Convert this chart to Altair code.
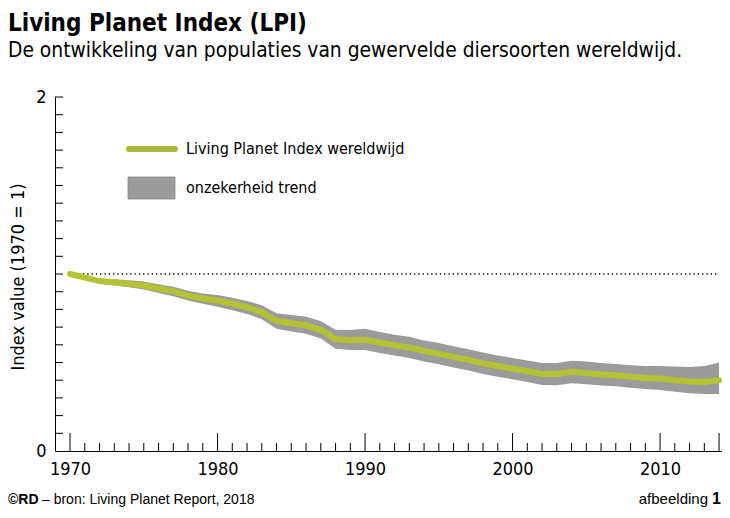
import altair as alt
import pandas as pd

# ---- data ----
years = list(range(1970, 2015))
lpi = [1.00, 0.98, 0.96, 0.953, 0.945, 0.935, 0.918, 0.902, 0.878, 0.862,
       0.85, 0.832, 0.812, 0.785, 0.735, 0.722, 0.71, 0.685, 0.632, 0.626,
       0.628, 0.612, 0.598, 0.585, 0.565, 0.55, 0.532, 0.515, 0.495, 0.48,
       0.465, 0.452, 0.435, 0.435, 0.448, 0.44, 0.432, 0.428, 0.42, 0.413,
       0.41, 0.40, 0.393, 0.39, 0.40]
lower = [1.00, 0.97, 0.945, 0.935, 0.925, 0.912, 0.893, 0.875, 0.85, 0.832,
         0.815, 0.795, 0.774, 0.745, 0.69, 0.675, 0.662, 0.635, 0.578, 0.57,
         0.57, 0.553, 0.54, 0.525, 0.506, 0.49, 0.472, 0.455, 0.435, 0.42,
         0.405, 0.39, 0.373, 0.372, 0.383, 0.377, 0.37, 0.366, 0.358, 0.35,
         0.345, 0.335, 0.326, 0.322, 0.322]
upper = [1.00, 0.99, 0.975, 0.97, 0.965, 0.957, 0.942, 0.928, 0.905, 0.89,
         0.882, 0.866, 0.848, 0.823, 0.778, 0.768, 0.758, 0.735, 0.685, 0.683,
         0.69, 0.672, 0.657, 0.645, 0.625, 0.61, 0.592, 0.575, 0.556, 0.54,
         0.525, 0.512, 0.497, 0.497, 0.51, 0.505, 0.497, 0.492, 0.485, 0.48,
         0.48, 0.478, 0.475, 0.48, 0.50]
x_major = [1970, 1980, 1990, 2000, 2010, 2014]
x_label_values = [1970, 1980, 1990, 2000, 2010]
y_label_values = [0, 1, 2]
y_minor = [round(i * 0.1, 1) for i in range(1, 21)]
reference_level = [1.0]

title_text = "Living Planet Index (LPI)"
subtitle_text = "De ontwikkeling van populaties van gewervelde diersoorten wereldwijd."
ytitle_text = "Index value (1970 = 1)"
legend_line_text = "Living Planet Index wereldwijd"
legend_band_text = "onzekerheid trend"
footer_bold = "©RD"
footer_text = "– bron: Living Planet Report, 2018"
footer_right = "afbeelding"
footer_right_num = "1"

# ---- layout / style ----
W, H = 667, 354
FONT_N = "DejaVu Sans Condensed, Liberation Sans Narrow, Arial Narrow, sans-serif"
FONT = "Liberation Sans, Arial, sans-serif"
LINE_COLOR = "#b4c333"
BAND_COLOR = "#9b9b9b"

df = pd.DataFrame({"year": years, "lpi": lpi, "lo": lower, "hi": upper})
xscale = alt.Scale(domain=[1968.98, 2014.2], nice=False, zero=False)
yscale = alt.Scale(domain=[0, 2], nice=False, zero=False)

band = alt.Chart(df).mark_area(color=BAND_COLOR, opacity=1).encode(
    x=alt.X("year:Q", scale=xscale,
            axis=alt.Axis(values=x_label_values, format="d", ticks=False,
                          domainColor="black", domainWidth=1, grid=False,
                          labelFont=FONT_N, labelFontSize=18, labelColor="black",
                          labelPadding=9, title=None, labelFlush=False)),
    y=alt.Y("lo:Q", scale=yscale,
            axis=alt.Axis(values=y_label_values, format="d", ticks=False,
                          domainColor="black", domainWidth=1, grid=False,
                          labelFont=FONT_N, labelFontSize=18, labelColor="black",
                          labelPadding=9, title=None, labelFlush=False)),
    y2="hi:Q",
)

ref_df = pd.DataFrame({"x1": [years[0]], "x2": [years[-1]], "y": reference_level})
ref = alt.Chart(ref_df).mark_rule(color="black", strokeWidth=1.3,
                                  strokeDash=[1.3, 3]).encode(
    x=alt.X("x1:Q", scale=xscale), x2="x2:Q", y=alt.Y("y:Q", scale=yscale))

line = alt.Chart(df).mark_line(color=LINE_COLOR, strokeWidth=6, strokeCap="round",
                               strokeJoin="round").encode(
    x=alt.X("year:Q", scale=xscale), y=alt.Y("lpi:Q", scale=yscale))

minor_df = pd.DataFrame({"year": [y for y in years if y not in x_major]})
major_df = pd.DataFrame({"year": x_major})
xt_minor = alt.Chart(minor_df).mark_rule(color="black", strokeWidth=1).encode(
    x=alt.X("year:Q", scale=xscale), y=alt.value(H), y2=alt.value(H - 8))
xt_major = alt.Chart(major_df).mark_rule(color="black", strokeWidth=1).encode(
    x=alt.X("year:Q", scale=xscale), y=alt.value(H), y2=alt.value(H - 18))
yt_df = pd.DataFrame({"v": y_minor})
yt = alt.Chart(yt_df).mark_rule(color="black", strokeWidth=1).encode(
    y=alt.Y("v:Q", scale=yscale), x=alt.value(0), x2=alt.value(8))

one = pd.DataFrame({"a": [0]})


def txt(text, x, y, size, font=FONT, weight="normal", align="left",
        baseline="alphabetic", angle=0):
    kw = dict(text=text, fontSize=size, font=font, fontWeight=weight,
              align=align, baseline=baseline, color="black")
    if angle:
        kw["angle"] = angle
    return alt.Chart(one).mark_text(**kw).encode(x=alt.value(x), y=alt.value(y))


leg_line = alt.Chart(one).mark_rule(color="#a9b83c", strokeWidth=6,
                                    strokeCap="round").encode(
    x=alt.value(74), x2=alt.value(120), y=alt.value(52))
leg_band = alt.Chart(one).mark_rect(color=BAND_COLOR, stroke="#8a8a8a",
                                    strokeWidth=0.8).encode(
    x=alt.value(73), x2=alt.value(120), y=alt.value(80), y2=alt.value(102))

texts = [
    txt(title_text, -47, -66, 24, FONT_N, "bold"),
    txt(subtitle_text, -47, -40, 20.8, FONT_N),
    txt(ytitle_text, -36, 180, 18, FONT_N, align="center", baseline="middle",
        angle=270),
    txt(legend_line_text, 131, 57, 16, FONT_N),
    txt(legend_band_text, 131, 96, 16, FONT_N),
    txt(footer_bold, -47, 407, 14, FONT, "bold"),
    txt(footer_text, -13, 407, 14, FONT),
    txt(footer_right, W - 14, 407, 15, FONT, align="right"),
    txt(footer_right_num, W - 1, 407, 16, FONT, "bold", align="right"),
]

chart = alt.layer(band, ref, line, xt_minor, xt_major, yt, leg_line, leg_band,
                  *texts).properties(
    width=W, height=H,
    autosize=alt.AutoSizeParams(type="none"),
    padding={"left": 47, "top": 89, "right": 0, "bottom": 57},
    background="white",
).configure_view(stroke=None)

chart.save("out.html", embed_options={"renderer": "svg", "actions": False})
